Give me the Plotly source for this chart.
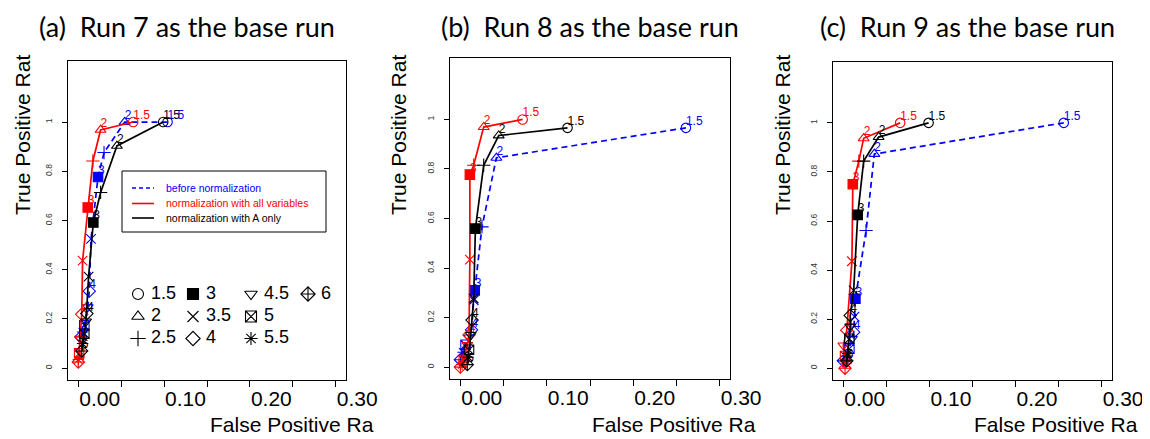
import plotly.graph_objects as go

OFF = 8  # page body margin of the rendered html
W, H = 1150 - OFF, 439 - OFF

thresholds = ["1.5", "2", "2.5", "3", "3.5", "4", "4.5", "5", "5.5", "6"]
labelled = ["1.5", "2", "3", "4", "6"]
series_names = ["before normalization", "normalization with all variables", "normalization with A only"]

# Panel (a): Run 7 as the base run
a_blue_x = [0.104, 0.054, 0.030, 0.023, 0.0148, 0.0128, 0.011, 0.007, 0.005, 0.003]
a_blue_y = [1.0, 1.0, 0.876, 0.777, 0.525, 0.313, 0.248, 0.174, 0.147, 0.127]
a_red_x = [0.064, 0.026, 0.017, 0.011, 0.005, 0.004, 0.002, 0.001, 0.0, 0.0]
a_red_y = [1.0, 0.968, 0.842, 0.653, 0.437, 0.219, 0.12, 0.06, 0.035, 0.025]
a_black_x = [0.099, 0.045, 0.026, 0.0175, 0.012, 0.010, 0.009, 0.007, 0.005, 0.004]
a_black_y = [1.0, 0.903, 0.714, 0.592, 0.372, 0.222, 0.19, 0.14, 0.10, 0.07]

# Panel (b): Run 8 as the base run
b_blue_x = [0.261, 0.0417, 0.025, 0.0166, 0.0154, 0.013, 0.010, 0.006, 0.003, 0.0]
b_blue_y = [0.966, 0.845, 0.566, 0.31, 0.27, 0.15, 0.12, 0.09, 0.06, 0.03]
b_red_x = [0.072, 0.027, 0.0154, 0.011, 0.011, 0.010, 0.008, 0.004, 0.002, 0.0]
b_red_y = [1.0, 0.969, 0.815, 0.777, 0.434, 0.13, 0.09, 0.03, 0.01, 0.0]
b_black_x = [0.124, 0.0444, 0.027, 0.0174, 0.0154, 0.0135, 0.012, 0.010, 0.009, 0.008]
b_black_y = [0.966, 0.935, 0.815, 0.559, 0.277, 0.19, 0.13, 0.07, 0.04, 0.01]

# Panel (c): Run 9 as the base run
c_blue_x = [0.256, 0.036, 0.0264, 0.014, 0.013, 0.012, 0.010, 0.007, 0.004, 0.0]
c_blue_y = [1.0, 0.873, 0.561, 0.283, 0.21, 0.147, 0.12, 0.08, 0.05, 0.03]
c_red_x = [0.066, 0.0236, 0.018, 0.011, 0.010, 0.004, 0.0, 0.002, 0.003, 0.002]
c_red_y = [1.0, 0.937, 0.844, 0.75, 0.436, 0.155, 0.093, 0.05, 0.02, 0.0]
c_black_x = [0.099, 0.041, 0.0236, 0.0167, 0.012, 0.008, 0.008, 0.007, 0.005, 0.004]
c_black_y = [1.0, 0.942, 0.844, 0.625, 0.317, 0.215, 0.17, 0.12, 0.06, 0.03]

panel_titles = ["(a)  Run 7 as the base run", "(b)  Run 8 as the base run", "(c)  Run 9 as the base run"]
x_tick_vals = [0.0, 0.05, 0.10, 0.15, 0.20, 0.25, 0.30]
x_tick_text = ["0.00", "", "0.10", "", "0.20", "", "0.30"]
y_tick_vals = [0, 0.2, 0.4, 0.6, 0.8, 1.0]
y_tick_text = ["0", "0.2", "0.4", "0.6", "0.8", "1"]
x_title = "False Positive Ra"
y_title = "True Positive Rat"

symbols = ["circle-open", "triangle-up-open", "cross-thin-open", "square", "x-thin-open",
           "diamond-open", "triangle-down-open", "square-x-open", "asterisk-open", "diamond-cross-open"]
colors = ["#0000FF", "#FF0000", "#000000"]
dashes = ["6px,4px", "solid", "solid"]

panels = [
    [(a_blue_x, a_blue_y), (a_red_x, a_red_y), (a_black_x, a_black_y)],
    [(b_blue_x, b_blue_y), (b_red_x, b_red_y), (b_black_x, b_black_y)],
    [(c_blue_x, c_blue_y), (c_red_x, c_red_y), (c_black_x, c_black_y)],
]

# panel boxes in screen pixels: (left, top, right, bottom)
boxes = [(68, 61, 346, 380), (450, 58, 730, 379), (833, 62, 1112, 380)]


def px(x):
    return (x - OFF) / W


def py(y):
    return 1 - (y - OFF) / H


fig = go.Figure()
for i, series in enumerate(panels):
    sfx = "" if i == 0 else str(i + 1)
    for (xs, ys), col, dash, name in zip(series, colors, dashes, series_names):
        fig.add_trace(go.Scatter(
            x=xs, y=ys, mode="lines+markers", name=name,
            xaxis="x" + sfx, yaxis="y" + sfx,
            line=dict(color=col, width=1.7, dash=dash),
            marker=dict(symbol=symbols, size=9.5, color=col, line=dict(color=col, width=1.1)),
            showlegend=False, cliponaxis=False,
        ))
        lx = [x for x, t in zip(xs, thresholds) if t in labelled]
        ly = [y for y, t in zip(ys, thresholds) if t in labelled]
        lt = [t for t in thresholds if t in labelled]
        fig.add_trace(go.Scatter(
            x=lx, y=ly, mode="text", text=lt, textposition="top right",
            textfont=dict(color=col, size=12, family="Liberation Sans"),
            xaxis="x" + sfx, yaxis="y" + sfx, showlegend=False, cliponaxis=False,
        ))

axis_common_x = dict(range=[-0.012, 0.312], tickvals=x_tick_vals, ticktext=x_tick_text,
                     ticks="outside", ticklen=6, tickwidth=1, tickcolor="black",
                     showline=True, mirror=True, linecolor="black", linewidth=1,
                     showgrid=False, zeroline=False, ticklabelposition="outside right",
                     automargin=False, fixedrange=True,
                     tickfont=dict(size=21, family="Liberation Sans", color="black"))
axis_common_y = dict(range=[-0.048, 1.248], tickvals=y_tick_vals, ticktext=y_tick_text,
                     ticks="outside", ticklen=5, tickwidth=1, tickcolor="black",
                     showline=True, mirror=True, linecolor="black", linewidth=1,
                     showgrid=False, zeroline=False, tickangle=-90, ticklabelstandoff=7,
                     automargin=False, fixedrange=True,
                     tickfont=dict(size=8.5, family="Liberation Sans", color="#333333"))

layout = dict(width=W, height=H, margin=dict(l=0, r=0, t=0, b=0, pad=0), autosize=False,
              paper_bgcolor="white", plot_bgcolor="rgba(0,0,0,0)", showlegend=False)
for i, (l, t, r, b) in enumerate(boxes):
    sfx = "" if i == 0 else str(i + 1)
    layout["xaxis" + sfx] = dict(axis_common_x, domain=[px(l), px(r)], anchor="y" + sfx)
    layout["yaxis" + sfx] = dict(axis_common_y, domain=[py(b), py(t)], anchor="x" + sfx)

# helper axes in screen-pixel units for the symbol key
layout["xaxis4"] = dict(domain=[0, 1], range=[OFF, OFF + W], visible=False, anchor="y4",
                        fixedrange=True, automargin=False)
layout["yaxis4"] = dict(domain=[0, 1], range=[OFF + H, OFF], visible=False, anchor="x4",
                        fixedrange=True, automargin=False)
fig.update_layout(**layout)

# symbol key (panel a)
key_cols_x = [138, 193, 251, 308]
key_rows_y = [294, 316.5, 338.5]
kx, ky, ksym, ktx, kty, ktext = [], [], [], [], [], []
for k, t in enumerate(thresholds):
    c, r = divmod(k, 3)
    kx.append(key_cols_x[c])
    ky.append(key_rows_y[r])
    ksym.append(symbols[k])
    ktx.append(key_cols_x[c] + 13)
    kty.append(key_rows_y[r])
    ktext.append(t)
fig.add_trace(go.Scatter(x=kx, y=ky, mode="markers", xaxis="x4", yaxis="y4",
                         marker=dict(symbol=ksym, size=11, color="black", line=dict(color="black", width=1.1)),
                         showlegend=False, hoverinfo="skip"))
fig.add_trace(go.Scatter(x=ktx, y=kty, mode="text", text=ktext, textposition="middle right",
                         textfont=dict(size=18, family="Liberation Sans", color="black"),
                         xaxis="x4", yaxis="y4", showlegend=False, hoverinfo="skip"))

# line legend (panel a)
shapes = [dict(type="rect", xref="paper", yref="paper", x0=px(122), x1=px(326), y0=py(232), y1=py(171),
               line=dict(color="black", width=1), fillcolor="white", layer="above")]
annotations = []
for k, (col, dash, name) in enumerate(zip(colors, dashes, series_names)):
    yy = [188, 203.5, 218][k]
    shapes.append(dict(type="line", xref="paper", yref="paper", x0=px(132), x1=px(154), y0=py(yy), y1=py(yy),
                       line=dict(color=col, width=1.6, dash="4px,3px" if dash != "solid" else "solid")))
    annotations.append(dict(x=px(164), y=py(yy), xref="paper", yref="paper", text=name, showarrow=False,
                            xanchor="left", yanchor="middle",
                            font=dict(size=10.5, family="Liberation Sans", color=col)))

title_cx = [187, 590, 967]
ytitle_x = [22, 398, 782]
xtitle_left = [208, 590, 972]
for i in range(3):
    annotations.append(dict(x=px(title_cx[i]), y=1, xref="paper", yref="paper", text=panel_titles[i],
                            showarrow=False, xanchor="center", yanchor="top",
                            font=dict(size=27, family="Lato", color="black")))
    annotations.append(dict(x=px(ytitle_x[i]), y=py(135), xref="paper", yref="paper", text=y_title,
                            showarrow=False, textangle=-90, xanchor="center", yanchor="middle",
                            font=dict(size=21, family="Liberation Sans", color="black")))
    annotations.append(dict(x=px(xtitle_left[i]), y=py(424), xref="paper", yref="paper", text=x_title,
                            showarrow=False, xanchor="left", yanchor="middle",
                            font=dict(size=21, family="Liberation Sans", color="black")))

fig.update_layout(shapes=shapes, annotations=annotations)
fig.write_html("out.html")
